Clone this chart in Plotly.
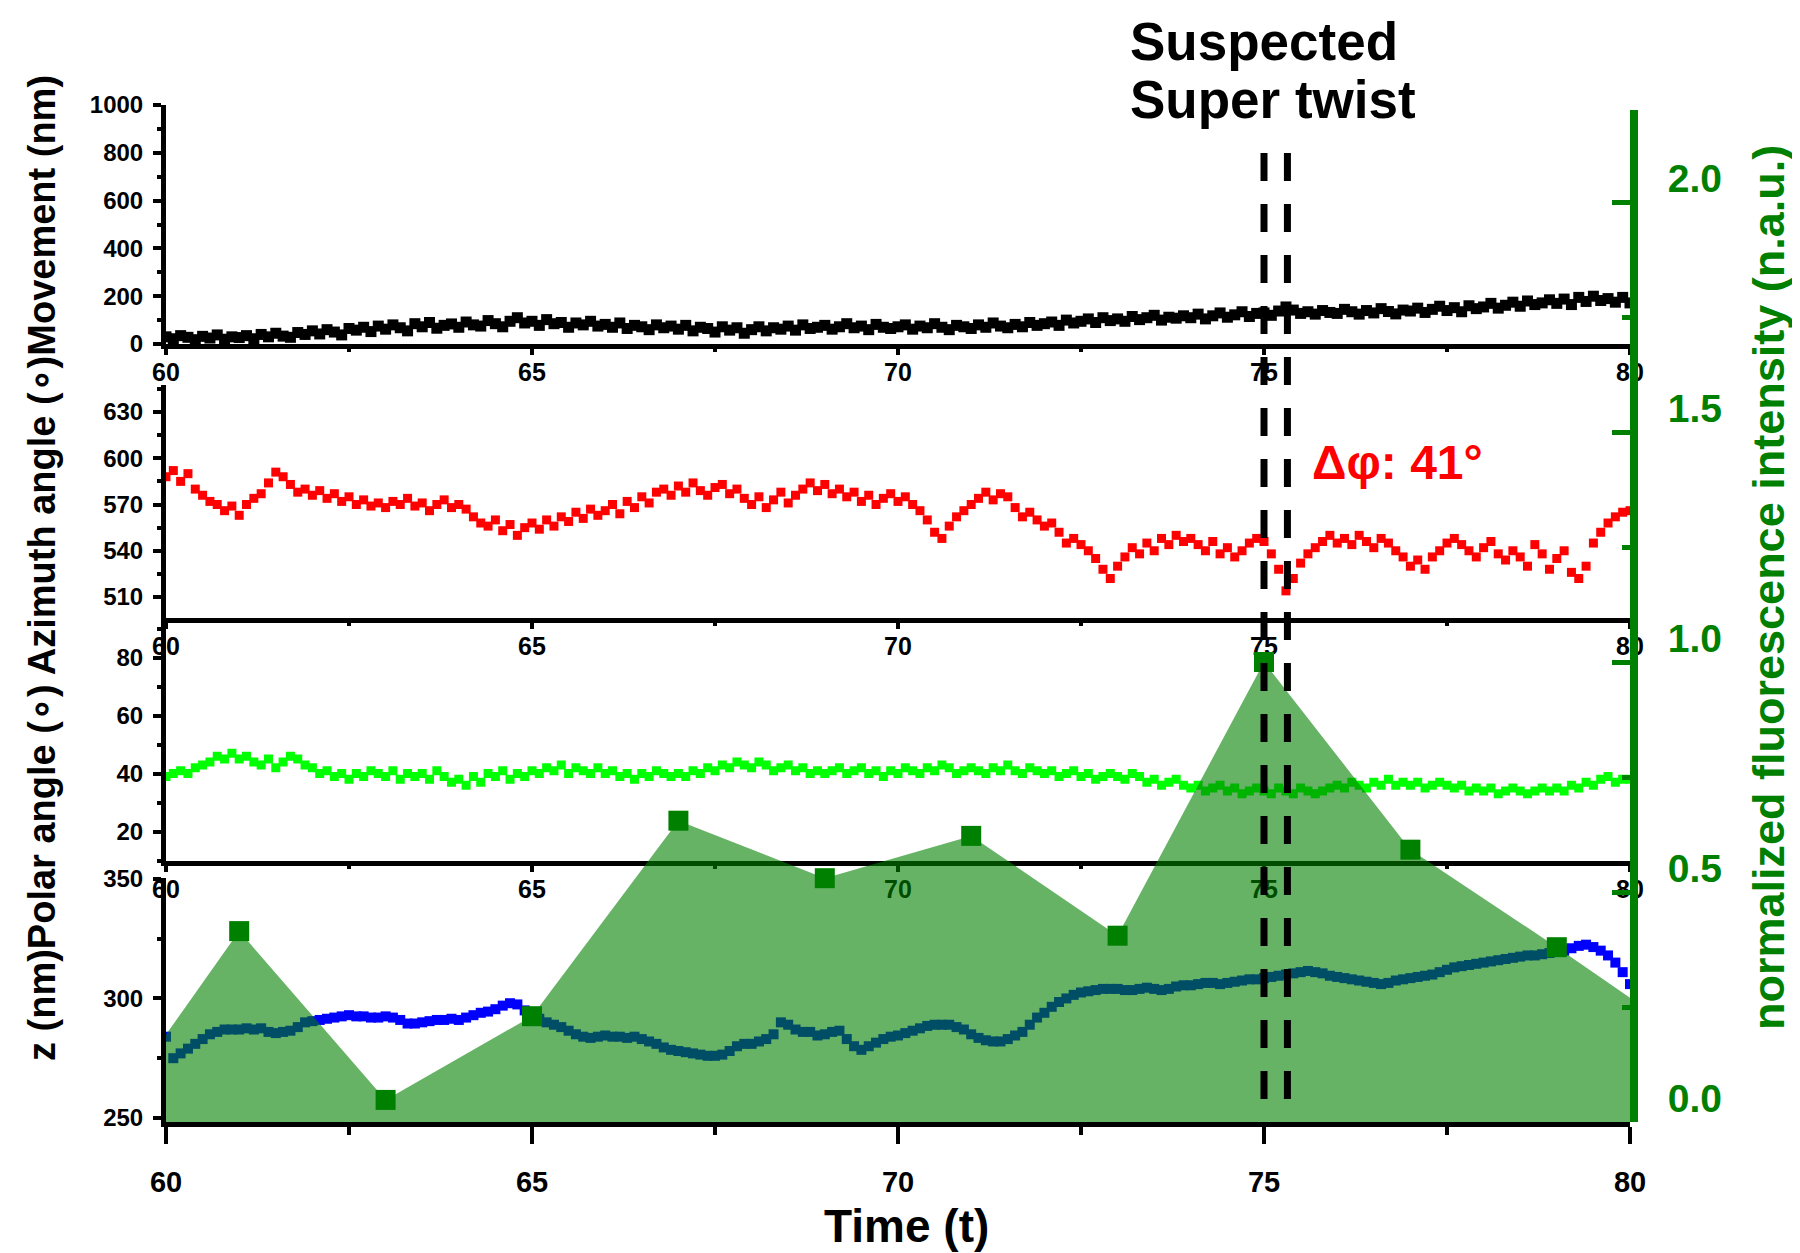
import plotly.graph_objects as go

# ---------------- data ----------------
time = [round(60 + 0.1 * i, 1) for i in range(201)]

movement = [
    30, 22, 35, 28, 18, 32, 25, 38, 20, 30,
    27, 35, 22, 40, 30, 45, 33, 28, 48, 40,
    55, 42, 60, 50, 38, 65, 58, 70, 52, 75,
    62, 80, 68, 55, 85, 72, 90, 66, 78, 84,
    70, 92, 80, 75, 98, 85, 72, 95, 110, 88,
    95, 78, 102, 85, 90, 70, 88, 80, 95, 75,
    82, 70, 88, 65, 78, 72, 60, 80, 68, 75,
    62, 78, 55, 70, 65, 50, 72, 58, 68, 45,
    60, 72, 55, 68, 62, 75, 58, 80, 65, 70,
    78, 62, 72, 85, 68, 75, 60, 82, 70, 65,
    72, 80, 62, 75, 68, 85, 70, 60, 78, 72,
    65, 80, 70, 88, 75, 68, 82, 72, 90, 78,
    85, 92, 78, 100, 88, 95, 105, 90, 110, 98,
    105, 95, 115, 102, 110, 120, 100, 112, 108, 118,
    110, 125, 105, 118, 130, 112, 122, 135, 115, 128,
    130, 120, 138, 155, 142, 128, 135, 125, 140, 132,
    128, 145, 135, 125, 140, 130, 148, 136, 126, 142,
    138, 150, 132, 145, 158, 140, 152, 135, 160, 148,
    155, 170, 150, 162, 175, 158, 180, 165, 172, 185,
    170, 188, 165, 195, 178, 200, 182, 190, 175, 195,
    172,
]

azimuth = [
    588, 592, 585, 590, 580, 576, 572, 570, 566, 569,
    563, 570, 574, 577, 584, 591, 588, 583, 578, 580,
    576, 579, 574, 577, 572, 575, 570, 573, 569, 571,
    568, 572, 570, 574, 569, 571, 566, 570, 573, 568,
    570, 567, 562, 558, 556, 560, 553, 557, 550, 555,
    558, 554, 560, 556, 562, 559, 565, 561, 567, 563,
    566, 570, 564, 572, 568, 575, 571, 578, 580, 576,
    582, 578, 584, 579, 576, 581, 583, 577, 580, 574,
    570, 575, 568, 573, 578, 571, 576, 580, 584, 579,
    583, 577, 580, 575, 578, 572, 576, 570, 574, 577,
    572, 575, 570, 566, 560, 552, 548, 556, 562, 566,
    570, 574, 578, 573, 577, 575, 568, 562, 565, 560,
    556, 558, 552, 545, 548, 544, 540, 535, 528, 522,
    530, 536, 542, 538, 545, 540, 548, 544, 550, 546,
    548, 544, 540, 546, 538, 542, 536, 540, 545, 548,
    546, 538, 528, 514, 522, 532, 538, 542, 546, 550,
    545, 548, 544, 550, 546, 542, 548, 545, 540, 536,
    530, 534, 528, 536, 540, 545, 548, 544, 540, 536,
    542, 546, 538, 534, 540, 536, 530, 544, 538, 528,
    535, 540, 526, 522, 530, 545, 552, 558, 562, 565,
    566,
]

polar = [
    39, 40, 41, 40, 42, 43, 44, 46, 45, 47,
    45, 46, 44, 43, 45, 42, 44, 46, 45, 43,
    42, 40, 41, 39, 40, 38, 40, 39, 41, 40,
    39, 41, 38, 40, 39, 40, 38, 41, 39, 37,
    38, 36, 39, 37, 40, 39, 41, 38, 40, 39,
    41, 40, 42, 41, 43, 40, 42, 41, 40, 42,
    40, 41, 39, 40, 38, 40, 39, 41, 40, 39,
    40, 39, 41, 40, 42, 41, 43, 42, 44, 43,
    42, 44, 43, 41, 42, 43, 41, 42, 40, 41,
    40, 41, 42, 40, 41, 42, 40, 41, 39, 41,
    40, 42, 41, 40, 42, 41, 43, 42, 40, 41,
    42, 41, 40, 42, 41, 43, 41, 40, 42, 41,
    40, 41, 39, 40, 41, 39, 40, 38, 39, 40,
    39, 38, 40, 39, 37, 38, 36, 37, 38, 36,
    35, 36, 34, 35, 36, 34, 35, 33, 34, 35,
    34, 33, 35, 34, 33, 35, 34, 33, 34, 35,
    36, 35, 37, 36, 35, 37, 36, 38, 36, 37,
    36, 37, 35, 36, 37, 36, 35, 36, 34, 35,
    34, 35, 33, 34, 35, 34, 33, 34, 35, 34,
    35, 34, 36, 35, 37, 36, 38, 39, 37, 38,
    38,
]

z_nm = [
    284, 275, 277, 279, 281, 283, 285, 286, 287, 287,
    287, 287.5, 287, 287.5, 286, 285.5, 286, 286.5, 288, 290,
    290.5, 291, 291.5, 292, 292.5, 293, 292.5, 292.5, 292, 292,
    292.5, 292, 291, 289.5, 289.5, 290, 290.5, 291, 291, 291.5,
    291, 292, 293, 294, 294.5, 295.5, 297, 298, 297.5, 295,
    293, 291.5, 290, 289, 288, 286.5, 285, 284, 283.5, 284,
    284.5, 284, 284, 283.5, 284, 283, 282, 281, 279.5, 278.5,
    278, 277.5, 277, 276.5, 276, 276, 276.5, 278, 280, 281,
    281, 282, 283, 285, 290, 289, 287, 286, 286, 284.5,
    285, 286, 286.5, 283, 280, 278.5, 280, 281.5, 283, 284,
    284.5, 285.5, 286.5, 287.5, 288.5, 289, 289, 289, 288, 287,
    285, 283.5, 282.5, 282, 282, 283, 284.5, 286, 289, 292,
    294, 296.5, 298.5, 300, 301.5, 302.5, 303, 303.5, 304, 304,
    304, 303.5, 303.5, 304, 304.5, 304, 303.5, 304, 305, 305.5,
    305.5, 306, 306.5, 306.5, 306, 306.5, 307, 307.5, 308, 308,
    308.5, 309, 309.5, 310, 310.5, 311, 311.5, 311, 310.5, 309.5,
    309, 308.5, 308, 307.5, 307, 306.5, 306, 306.5, 307.5, 308,
    308.5, 309, 309.5, 310, 311, 312, 313, 313.5, 314, 314.5,
    315, 315.5, 316, 316.5, 317, 317.5, 318, 318, 318.5, 319,
    319.5, 320, 321, 322, 322.5, 321.5, 320, 318, 315, 311,
    306,
]

fluo_t = [61, 63, 65, 67, 69, 71, 73, 75, 77, 79]
fluo_v = [0.415, 0.048, 0.23, 0.655, 0.53, 0.622, 0.405, 1.0, 0.592, 0.38]
fill_t = [60] + fluo_t + [80]
fill_v = [0.19] + fluo_v + [0.27]

x_ticks = [60, 65, 70, 75, 80]
twist_lines = [75.0, 75.32]

# ---------------- layout helpers ----------------
# the page body adds an 8px offset, so the figure is 8px smaller than the window
OFF = 8
W, H = 1800 - OFF, 1253 - OFF
X0, X1, Y0, Y1 = 166, 1630, 100, 1122          # plot area in window pixels
ML, MT = X0 - OFF, Y0 - OFF
MR, MB = W + OFF - X1, H + OFF - Y1
PW, PH = X1 - X0, Y1 - Y0


def py(y_px):
    return (Y1 - y_px) / PH


def px(x_px):
    return (x_px - X0) / PW


FONT = "Liberation Sans, Arial, sans-serif"
BLACK = "#000000"
GREEN = "#008000"

fig = go.Figure()

fig.add_trace(go.Scatter(x=time, y=z_nm, mode="markers", xaxis="x", yaxis="y",
                         marker=dict(symbol="square", size=10, color="#0000FF"),
                         showlegend=False))
fig.add_trace(go.Scatter(x=time, y=polar, mode="markers", xaxis="x2", yaxis="y2",
                         marker=dict(symbol="square", size=9, color="#00FF00"),
                         showlegend=False))
fig.add_trace(go.Scatter(x=time, y=azimuth, mode="markers", xaxis="x3", yaxis="y3",
                         marker=dict(symbol="square", size=9, color="#FF0000"),
                         showlegend=False))
fig.add_trace(go.Scatter(x=time, y=movement, mode="markers", xaxis="x4", yaxis="y4",
                         marker=dict(symbol="square", size=11, color=BLACK),
                         showlegend=False))
fig.add_trace(go.Scatter(x=fill_t, y=fill_v, mode="lines", xaxis="x5", yaxis="y5",
                         line=dict(width=0, color="rgba(0,128,0,0.6)"),
                         fill="tozeroy", fillcolor="rgba(0,128,0,0.6)",
                         showlegend=False))
fig.add_trace(go.Scatter(x=fluo_t, y=fluo_v, mode="markers", xaxis="x5", yaxis="y5",
                         marker=dict(symbol="square", size=20, color=GREEN),
                         showlegend=False))


def xax(anchor, big=False):
    return dict(
        domain=[0, 1], anchor=anchor, range=[60, 80],
        tickvals=x_ticks, ticks="outside",
        ticklen=17 if big else 6, tickwidth=4, tickcolor=BLACK,
        minor=dict(dtick=2.5, ticks="outside", ticklen=8 if big else 3,
                   tickwidth=4, tickcolor=BLACK),
        showline=True, linewidth=5, linecolor=BLACK,
        showgrid=False, zeroline=False,
        ticklabelstandoff=13 if big else -4,
        tickfont=dict(family=FONT, size=29 if big else 25, color=BLACK, weight="bold"),
    )


def yax(anchor, dom, rng, tv, mdt):
    return dict(
        domain=dom, anchor=anchor, range=rng, tickvals=tv,
        ticks="outside", ticklen=8, tickwidth=4, tickcolor=BLACK,
        minor=dict(dtick=mdt, ticks="outside", ticklen=4, tickwidth=4, tickcolor=BLACK),
        showline=True, linewidth=5, linecolor=BLACK,
        showgrid=False, zeroline=False, ticklabelstandoff=5,
        tickfont=dict(family=FONT, size=24, color=BLACK, weight="bold"),
    )


fig.update_layout(
    width=W, height=H,
    margin=dict(l=ML, r=MR, t=MT, b=MB),
    paper_bgcolor="white", plot_bgcolor="rgba(0,0,0,0)",
    showlegend=False,
    xaxis=xax("y", big=True),
    yaxis=yax("x", [0, py(878)], [248.3, 350.4], [250, 300, 350], 25),
    xaxis2=xax("y2"),
    yaxis2=yax("x2", [py(860.5), py(620)], [10, 93], [20, 40, 60, 80], 10),
    xaxis3=xax("y3"),
    yaxis3=yax("x3", [py(618), py(385)], [496.4, 647.5], [510, 540, 570, 600, 630], 15),
    xaxis4=xax("y4"),
    yaxis4=yax("x4", [py(344), py(105)], [0, 1000], [0, 200, 400, 600, 800, 1000], 100),
    xaxis5=dict(domain=[0, 1], anchor="y5", range=[60, 80], visible=False),
    yaxis5=dict(
        domain=[0, py(110)], anchor="x5", side="right", range=[0, 2.2],
        tickvals=[0, 0.5, 1.0, 1.5, 2.0], ticktext=["0.0", "0.5", "1.0", "1.5", "2.0"],
        ticks="inside", ticklen=18, tickwidth=5, tickcolor=GREEN,
        minor=dict(dtick=0.25, ticks="inside", ticklen=8, tickwidth=5, tickcolor=GREEN),
        showline=True, linewidth=8, linecolor=GREEN,
        showgrid=False, zeroline=False,
        ticklabelstandoff=22, ticklabelshift=-24,
        tickfont=dict(family=FONT, size=39, color=GREEN, weight="bold"),
    ),
)

for xv in twist_lines:
    fig.add_shape(type="line", xref="x5", yref="paper", x0=xv, x1=xv,
                  y0=py(153), y1=0, layer="above",
                  line=dict(color=BLACK, width=7, dash="28px,23px"))

ann = []
ann.append(dict(text="z (nm)Polar angle (∘) Azimuth angle (∘)Movement (nm)",
                xref="paper", yref="paper", x=px(42), y=py(568), textangle=-90,
                showarrow=False, xanchor="center", yanchor="middle",
                font=dict(family=FONT, size=38, color=BLACK, weight="bold")))
ann.append(dict(text="normalized fluorescence intensity (n.a.u.)",
                xref="paper", yref="paper", x=px(1768), y=py(588), textangle=-90,
                showarrow=False, xanchor="center", yanchor="middle",
                font=dict(family=FONT, size=45, color=GREEN, weight="bold")))
ann.append(dict(text="Time (t)", xref="paper", yref="paper", x=px(906), y=py(1226),
                showarrow=False, xanchor="center", yanchor="middle",
                font=dict(family=FONT, size=46, color=BLACK, weight="bold")))
ann.append(dict(text="Suspected", xref="paper", yref="paper", x=px(1128), y=py(41),
                showarrow=False, xanchor="left", yanchor="middle",
                font=dict(family=FONT, size=53, color=BLACK, weight="bold")))
ann.append(dict(text="Super twist", xref="paper", yref="paper", x=px(1128), y=py(99),
                showarrow=False, xanchor="left", yanchor="middle",
                font=dict(family=FONT, size=53, color=BLACK, weight="bold")))
ann.append(dict(text="Δφ: 41°", xref="paper", yref="paper", x=px(1310), y=py(462),
                showarrow=False, xanchor="left", yanchor="middle",
                font=dict(family=FONT, size=48, color="#FF0000", weight="bold")))
fig.update_layout(annotations=ann)

fig.write_html("out.html")
